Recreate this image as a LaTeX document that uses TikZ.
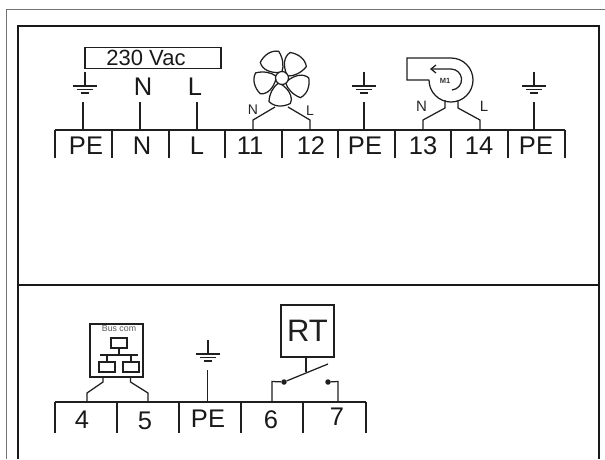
\documentclass[tikz,border=0pt]{standalone}
\usepackage{fontspec}
\setmainfont{Liberation Sans}
\usetikzlibrary{arrows.meta}

\tikzset{
  wire/.style={line width=1.25pt,color=black!88},
  frame/.style={line width=2pt,color=black!90},
  term/.style={inner sep=0pt,color=black!90,font=\fontsize{25.5}{26}\selectfont},
  small/.style={inner sep=0pt,color=black!85,font=\fontsize{14}{14}\selectfont},
  boxed/.style={draw,line width=1.25pt,inner sep=0pt,color=black!88},
  gnd/.pic={
    \draw[wire] (0,-14) -- (0,0);
    \draw[wire] (-12,0) -- (12,0);
    \draw[wire] (-8,3.5) -- (8,3.5);
    \draw[wire] (-4,7) -- (4,7);
  },
  blade/.pic={
    \draw[wire] (-3,-5.5) .. controls (-11,-5) and (-20,-8) .. (-21.7,-15.7)
      .. controls (-18,-23) and (-11,-28) .. (-3.3,-26.7)
      .. controls (1,-20) and (2,-12) .. (0,-6.5);
  }
}

\begin{document}
\begin{tikzpicture}[x=1pt,y=-1pt]
  \useasboundingbox (0,0) rectangle (605,459);

  % outer frames
  \coordinate (o0) at (6.5,459);
  \coordinate (o1) at (6.5,9);
  \coordinate (o2) at (605,9);
  \draw [line width=1pt,color=black!55] (o0) -- (o1) -- (o2);

  \coordinate (f0) at (18,459);
  \coordinate (f1) at (18,26);
  \coordinate (f2) at (598.5,26);
  \coordinate (f3) at (598.5,459);
  \coordinate (m0) at (18,285);
  \coordinate (m1) at (598.5,285);
  \draw [frame] (f0) -- (f1) -- (f2) -- (f3);
  \draw [frame] (m0) -- (m1);

  % upper terminal strip
  \foreach \n/\x in {0/55,1/112,2/169,3/225,4/282,5/338,6/395,7/451,8/508,9/565} {
    \coordinate (a\n) at (\x,130);
    \coordinate (c\n) at (\x,158);
    \draw [wire] (a\n) -- (c\n);
  }
  \draw [wire] (a0) -- (a9);

  \node[term] (t1) at (86,146)  {PE};
  \node[term] (t2) at (142,146) {N};
  \node[term] (t3) at (197,146) {L};
  \node[term] (t4) at (250,146) {11};
  \node[term] (t5) at (311,146) {12};
  \node[term] (t6) at (365,146) {PE};
  \node[term] (t7) at (423,146) {13};
  \node[term] (t8) at (479,146) {14};
  \node[term] (t9) at (536,146) {PE};

  % supply
  \node[boxed,minimum width=136,minimum height=20.5] (vac) at (153,58) {};
  \node[inner sep=0pt,color=black!90,font=\fontsize{22}{22}\selectfont] (vact) at (146,58) {230 Vac};
  \node[term] (lN) at (143,87) {N};
  \node[term] (lL) at (195,87) {L};

  \pic at (85,86) {gnd};
  \pic at (364,86) {gnd};
  \pic at (534,86) {gnd};

  \coordinate (g1) at (83,102);  \coordinate (h1) at (83,130);
  \coordinate (g2) at (140,102); \coordinate (h2) at (140,130);
  \coordinate (g3) at (197,102); \coordinate (h3) at (197,130);
  \coordinate (g4) at (364,102); \coordinate (h4) at (364,130);
  \coordinate (g5) at (534,102); \coordinate (h5) at (534,130);
  \draw [wire] (g1) -- (h1);
  \draw [wire] (g2) -- (h2);
  \draw [wire] (g3) -- (h3);
  \draw [wire] (g4) -- (h4);
  \draw [wire] (g5) -- (h5);

  % fan
  \node[circle,draw,line width=1.25pt,color=black!88,minimum size=13,inner sep=0pt] (hub) at (282,78) {};
  \foreach \r in {0,72,144,216,288} {
    \pic[rotate=-\r] at (282,78) {blade};
  }
  \node[small] (fN) at (253,110) {N};
  \node[small] (fL) at (310,111) {L};
  \coordinate (n1) at (275,107);
  \coordinate (n2) at (253,120);
  \coordinate (n3) at (253,130);
  \coordinate (l1) at (288,107);
  \coordinate (l2) at (310,120);
  \coordinate (l3) at (310,130);
  \draw [wire] (n1) -- (n2) -- (n3);
  \draw [wire] (l1) -- (l2) -- (l3);

  % blower
  \coordinate (b0) at (429,80);
  \coordinate (b1) at (407,80);
  \coordinate (b2) at (407,58);
  \coordinate (b3) at (451,58);
  \draw [wire] (b0) -- (b1) -- (b2) -- (b3) arc[start angle=-90,end angle=180,radius=22];
  \coordinate (r0) at (452,90);
  \coordinate (r1) at (430,69);
  \draw [wire,-{Straight Barb[length=5pt,width=8pt]}] (r0) arc[start angle=85,end angle=-90,radius=10.5] -- (r1);
  \node[inner sep=0pt,color=black!80,font=\bfseries\fontsize{7.5}{8}\selectfont] (m) at (445,80.5) {M1};
  \node[small,font=\fontsize{15}{15}\selectfont] (bN) at (421.5,106) {N};
  \node[small,font=\fontsize{15}{15}\selectfont] (bL) at (484,106) {L};
  \coordinate (p1) at (445,100);
  \coordinate (p2) at (445,108);
  \coordinate (p3) at (423,120);
  \coordinate (p4) at (423,130);
  \coordinate (q1) at (458,100);
  \coordinate (q2) at (458,108);
  \coordinate (q3) at (480,120);
  \coordinate (q4) at (480,130);
  \draw [wire] (p1) -- (p2) -- (p3) -- (p4);
  \draw [wire] (q1) -- (q2) -- (q3) -- (q4);

  % lower terminal strip
  \foreach \n/\x in {0/55,1/117,2/179,3/241,4/303,5/366} {
    \coordinate (d\n) at (\x,402);
    \coordinate (e\n) at (\x,433);
    \draw [wire] (d\n) -- (e\n);
  }
  \draw [wire] (d0) -- (d5);

  \node[term] (s1) at (82,420)  {4};
  \node[term] (s2) at (145,421) {5};
  \node[term] (s3) at (208,419) {PE};
  \node[term] (s4) at (271,420) {6};
  \node[term] (s5) at (337,417) {7};

  % bus module
  \node[boxed,minimum size=53] (bus) at (116.5,350.5) {};
  \node[inner sep=0pt,color=black!65,font=\fontsize{8.8}{9}\selectfont] (bust) at (119,329) {Bus com};
  \node[boxed,minimum width=16,minimum height=10] (net0) at (119,343) {};
  \node[boxed,minimum width=16,minimum height=10] (net1) at (107,367) {};
  \node[boxed,minimum width=16,minimum height=10] (net2) at (131,367) {};
  \coordinate (k0) at (119,355);
  \coordinate (k1) at (100,355);
  \coordinate (k2) at (138,355);
  \coordinate (k3) at (107,355);
  \coordinate (k4) at (131,355);
  \draw [wire] (net0) -- (k0);
  \draw [wire] (k1) -- (k2);
  \draw [wire] (k3) -- (net1);
  \draw [wire] (k4) -- (net2);
  \coordinate (u1) at (103,377);
  \coordinate (u2) at (103,382);
  \coordinate (u3) at (87,393);
  \coordinate (u4) at (87,402);
  \coordinate (v1) at (130.5,377);
  \coordinate (v2) at (130.5,382);
  \coordinate (v3) at (148,393);
  \coordinate (v4) at (148,402);
  \draw [wire] (u1) -- (u2) -- (u3) -- (u4);
  \draw [wire] (v1) -- (v2) -- (v3) -- (v4);

  % earth of the lower strip
  \pic at (208,354) {gnd};
  \coordinate (g6) at (207.5,370);
  \coordinate (h6) at (207.5,402);
  \draw [wire] (g6) -- (h6);

  % thermostat
  \node[boxed,minimum width=53,minimum height=52,font=\fontsize{31}{31}\selectfont] (rt) at (307.5,331) {RT};
  \node[circle,fill=black!88,inner sep=0pt,minimum size=5.5] (sw1) at (284,382) {};
  \node[circle,fill=black!88,inner sep=0pt,minimum size=5.5] (sw2) at (328,382) {};
  \coordinate (sw3) at (328,364);
  \coordinate (sw4) at (306,372);
  \coordinate (x1) at (272,381.5);
  \coordinate (x2) at (272,402);
  \coordinate (y1) at (338,381.5);
  \coordinate (y2) at (338,402);
  \draw [wire] (sw1) -- (sw3);
  \draw [wire] (rt.south -| sw4) -- (sw4);
  \draw [wire] (sw1) -- (x1) -- (x2);
  \draw [wire] (sw2) -- (y1) -- (y2);
\end{tikzpicture}
\end{document}
